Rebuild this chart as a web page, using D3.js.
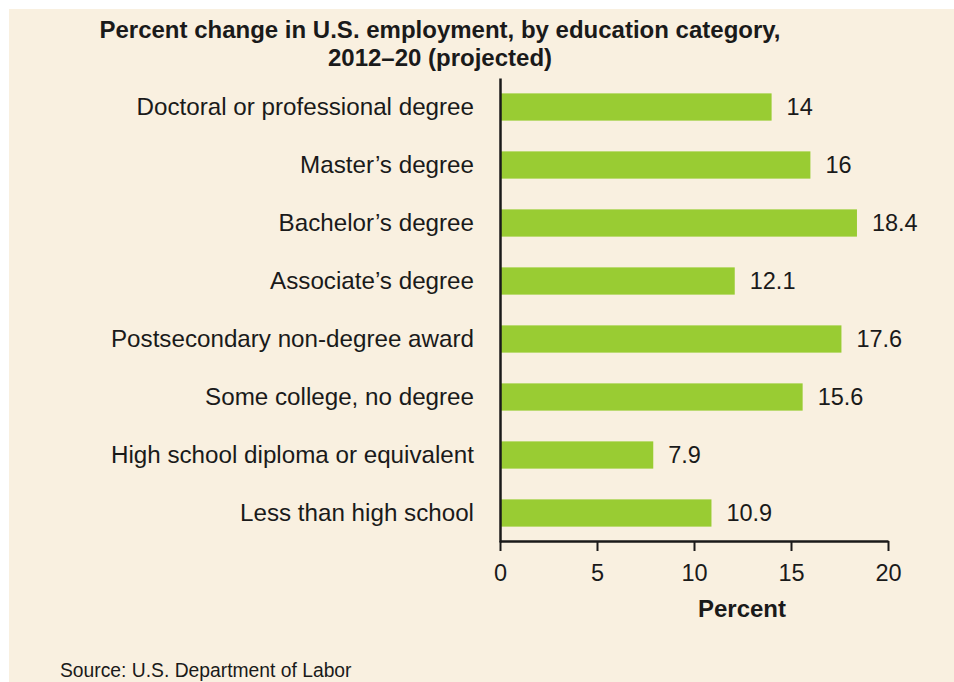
<!DOCTYPE html>
<html>
<head>
<meta charset="utf-8">
<script src="https://cdn.jsdelivr.net/npm/d3@7"></script>
<style>
  body { margin: 0; background: #fff; }
  svg text { font-family: "Liberation Sans", Arial, sans-serif; fill: #1a1a1a; }
</style>
</head>
<body>
<div id="chart"></div>
<script>
const width = 954
const height = 682;

// data
const categories = [
  'Doctoral or professional degree',
  'Master\u2019s degree',
  'Bachelor\u2019s degree',
  'Associate\u2019s degree',
  'Postsecondary non-degree award',
  'Some college, no degree',
  'High school diploma or equivalent',
  'Less than high school'
];
const values = [14, 16, 18.4, 12.1, 17.6, 15.6, 7.9, 10.9];
const valueLabels = ['14', '16', '18.4', '12.1', '17.6', '15.6', '7.9', '10.9'];
const xTicks = [0, 5, 10, 15, 20];

const data = categories.map((c, i) => ({cat: c, value: values[i], label: valueLabels[i]}));

// setup svg
const svg = d3.select('#chart')
  .append('svg')
  .attr('width', width)
  .attr('height', height);

// background panel
svg.append('rect')
  .attr('x', 9)
  .attr('y', 9)
  .attr('width', width - 9)
  .attr('height', height - 9)
  .attr('fill', '#f9f0e0');

const x = d3.scaleLinear()
  .domain([0, 20])
  .range([500, 888]);

const y = d3.scaleBand()
  .domain(categories)
  .range([78, 542])
  .paddingInner(0.53)
  .paddingOuter(0.265);

// bars
svg.selectAll('rect.bar')
    .data(data)
  .join('rect')
    .attr('class', 'bar')
    .attr('x', x(0))
    .attr('y', d => y(d.cat))
    .attr('width', d => x(d.value) - x(0))
    .attr('height', y.bandwidth())
    .attr('fill', '#99cc33');

// value labels
svg.selectAll('text.val')
    .data(data)
  .join('text')
    .attr('class', 'val')
    .attr('x', d => x(d.value) + 15)
    .attr('y', d => y(d.cat) + y.bandwidth() / 2)
    .attr('dy', '0.35em')
    .attr('font-size', 23.5)
    .text(d => d.label);

// category axis
const yAxis = svg.append('g')
  .attr('transform', `translate(${x(0)},0)`)
  .call(d3.axisLeft(y).tickSizeInner(0).tickSizeOuter(0).tickPadding(26));
yAxis.select('.domain').attr('stroke', '#1a1a1a').attr('stroke-width', 2.5);
yAxis.selectAll('text').attr('font-size', 24.2).attr('fill', '#1a1a1a');

// value axis
const xAxis = svg.append('g')
  .attr('transform', 'translate(0,541)')
  .call(d3.axisBottom(x).tickValues(xTicks).tickSizeInner(10).tickSizeOuter(0).tickPadding(13));
xAxis.select('.domain').attr('stroke', '#1a1a1a').attr('stroke-width', 2.5);
xAxis.selectAll('.tick line').attr('stroke', '#1a1a1a').attr('stroke-width', 2);
xAxis.selectAll('text').attr('font-size', 23.5).attr('fill', '#1a1a1a');

svg.append('text')
  .attr('x', 742)
  .attr('y', 617)
  .attr('text-anchor', 'middle')
  .attr('font-size', 24)
  .attr('font-weight', 'bold')
  .text('Percent');

// title
const title = svg.append('text')
  .attr('text-anchor', 'middle')
  .attr('font-size', 24)
  .attr('font-weight', 'bold');
title.append('tspan').attr('x', 440).attr('y', 38)
  .text('Percent change in U.S. employment, by education category,');
title.append('tspan').attr('x', 440).attr('y', 66)
  .text('2012\u201320 (projected)');

// source
svg.append('text')
  .attr('x', 60)
  .attr('y', 677)
  .attr('font-size', 19.3)
  .text('Source: U.S. Department of Labor');
</script>
</body>
</html>
